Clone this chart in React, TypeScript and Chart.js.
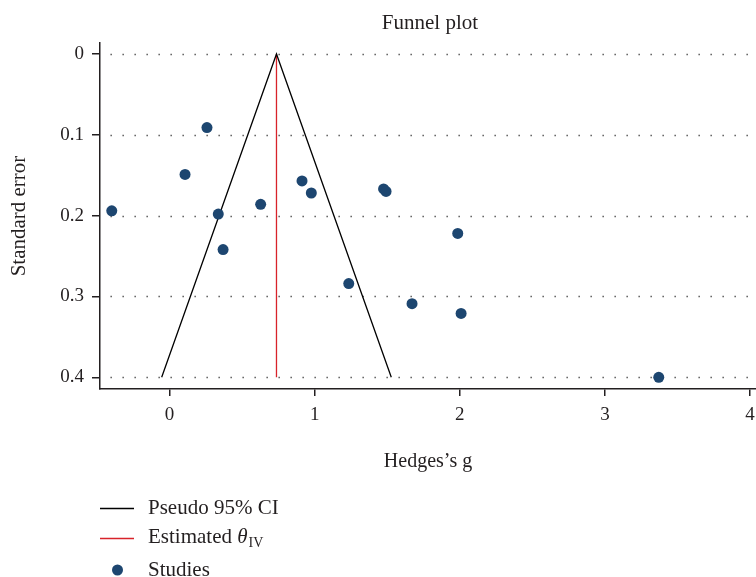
import React, { useEffect, useRef } from "react";
import { Chart, registerables } from "chart.js";

Chart.register(...registerables);

const chartTitle = "Funnel plot";
const xAxisTitle = "Hedges\u2019s g";
const yAxisTitle = "Standard error";

const studyHedgesG = [-0.398, 0.107, 0.258, 0.336, 0.369, 0.628, 0.913, 0.977, 1.235, 1.475, 1.492, 1.671, 1.986, 2.009, 3.371];
const studyStdErr = [0.194, 0.149, 0.091, 0.198, 0.242, 0.186, 0.157, 0.172, 0.284, 0.167, 0.17, 0.309, 0.222, 0.321, 0.4];

const ciX = [-0.054, 0.737, 1.528];
const ciY = [0.4, 0, 0.4];
const thetaX = [0.737, 0.737];
const thetaY = [0, 0.4];

const xTicks = [0, 1, 2, 3, 4];
const yTicks = [0, 0.1, 0.2, 0.3, 0.4];

const legendLabels = ["Pseudo 95% CI", "Estimated ", "Studies"];
const thetaSymbol = "\u03b8";
const thetaSub = "IV";

const FONT = "'Liberation Serif', 'DejaVu Serif', serif";
const TEXT = "#231f20";
const NAVY = "#1d4670";
const RED = "#d8232a";
const LABEL_SIZE = 21;

const decorPlugin = {
  id: "decor",
  beforeDatasetsDraw(chart: any) {
    const { ctx, chartArea, scales } = chart;
    ctx.save();
    ctx.strokeStyle = "#444";
    ctx.lineWidth = 1.3;
    ctx.setLineDash([1.3, 10.7]);
    for (const v of yTicks) {
      const y = Math.round(scales.y.getPixelForValue(v)) + 0.5;
      ctx.beginPath();
      ctx.moveTo(chartArea.left + 10.5, y);
      ctx.lineTo(chartArea.right, y);
      ctx.stroke();
    }
    ctx.restore();
  },
  afterDraw(chart: any) {
    const { ctx, chartArea } = chart;
    ctx.save();
    ctx.fillStyle = TEXT;
    ctx.font = `${LABEL_SIZE}px ${FONT}`;
    ctx.textAlign = "center";
    ctx.textBaseline = "alphabetic";
    ctx.fillText(chartTitle, (chartArea.left + chartArea.right) / 2 + 2, 29);

    // legend
    const lx0 = 100;
    const lx1 = 134;
    const tx = 148;
    ctx.textAlign = "left";
    ctx.lineWidth = 1.3;
    // item 1
    ctx.strokeStyle = "#000";
    ctx.beginPath();
    ctx.moveTo(lx0, 508.5);
    ctx.lineTo(lx1, 508.5);
    ctx.stroke();
    ctx.fillText(legendLabels[0], tx, 514);
    // item 2
    ctx.strokeStyle = RED;
    ctx.beginPath();
    ctx.moveTo(lx0, 538.5);
    ctx.lineTo(lx1, 538.5);
    ctx.stroke();
    ctx.fillText(legendLabels[1], tx, 543);
    let w = ctx.measureText(legendLabels[1]).width;
    ctx.font = `italic ${LABEL_SIZE}px ${FONT}`;
    ctx.fillText(thetaSymbol, tx + w, 543);
    w += ctx.measureText(thetaSymbol).width;
    ctx.font = `14px ${FONT}`;
    ctx.fillText(thetaSub, tx + w + 1, 547);
    // item 3
    ctx.font = `${LABEL_SIZE}px ${FONT}`;
    ctx.fillStyle = NAVY;
    ctx.beginPath();
    ctx.arc(117.5, 570, 5.5, 0, Math.PI * 2);
    ctx.fill();
    ctx.fillStyle = TEXT;
    ctx.fillText(legendLabels[2], tx, 576);
    ctx.restore();
  },
};

export default function App() {
  const canvasRef = useRef<HTMLCanvasElement | null>(null);

  useEffect(() => {
    if (!canvasRef.current) return;
    const chart = new Chart(canvasRef.current, {
      type: "scatter",
      data: {
        datasets: [
          {
            label: "Studies",
            data: studyHedgesG.map((g, i) => ({ x: g, y: studyStdErr[i] })),
            backgroundColor: NAVY,
            borderColor: NAVY,
            pointRadius: 5.5,
            pointBorderWidth: 0,
            order: 0,
          },
          {
            label: "Pseudo 95% CI",
            data: ciX.map((x, i) => ({ x, y: ciY[i] })),
            showLine: true,
            borderColor: "#000",
            borderWidth: 1.3,
            pointRadius: 0,
            order: 1,
          },
          {
            label: "Estimated",
            data: thetaX.map((x, i) => ({ x, y: thetaY[i] })),
            showLine: true,
            borderColor: RED,
            borderWidth: 1.3,
            pointRadius: 0,
            order: 2,
          },
        ],
      },
      options: {
        responsive: false,
        animation: false,
        layout: { autoPadding: false, padding: { top: 43, right: 0, bottom: 95, left: 0 } },
        plugins: {
          legend: { display: false },
          tooltip: { enabled: false },
          title: { display: false },
        },
        scales: {
          x: {
            type: "linear",
            min: -0.479,
            max: 4.041,
            afterBuildTicks: (scale: any) => {
              scale.ticks = xTicks.map((v) => ({ value: v }));
            },
            afterFit: (scale: any) => {
              scale.height = 93;
              scale.paddingRight = 0;
              scale.paddingLeft = 0;
            },
            border: { display: true, color: TEXT, width: 1.5 },
            grid: { display: true, drawOnChartArea: false, drawTicks: true, tickLength: 7, color: TEXT, lineWidth: 1.5 },
            ticks: {
              padding: 8,
              color: TEXT,
              font: { family: FONT, size: 19 },
              callback: (v: any) => String(v),
            },
            title: {
              display: true,
              text: xAxisTitle,
              color: TEXT,
              font: { family: FONT, size: 20 },
              padding: { top: 0, bottom: 8 },
            },
          },
          y: {
            type: "linear",
            reverse: true,
            min: -0.0136,
            max: 0.4145,
            afterBuildTicks: (scale: any) => {
              scale.ticks = yTicks.map((v) => ({ value: v }));
            },
            afterFit: (scale: any) => {
              scale.width = 100;
              scale.paddingTop = 0;
              scale.paddingBottom = 0;
            },
            border: { display: true, color: TEXT, width: 1.5 },
            grid: { display: true, drawOnChartArea: false, drawTicks: true, tickLength: 8, color: TEXT, lineWidth: 1.5 },
            ticks: {
              padding: 8,
              color: TEXT,
              font: { family: FONT, size: 19 },
              callback: (v: any) => String(v),
            },
            title: {
              display: true,
              text: yAxisTitle,
              color: TEXT,
              font: { family: FONT, size: LABEL_SIZE },
              padding: { top: 7, bottom: 0 },
            },
          },
        },
      },
      plugins: [decorPlugin],
    });
    return () => chart.destroy();
  }, []);

  return (
    <div style={{ position: "fixed", left: 0, top: 0, width: 756, height: 577, background: "#fff" }}>
      <canvas ref={canvasRef} width={756} height={577} style={{ display: "block" }} />
    </div>
  );
}
